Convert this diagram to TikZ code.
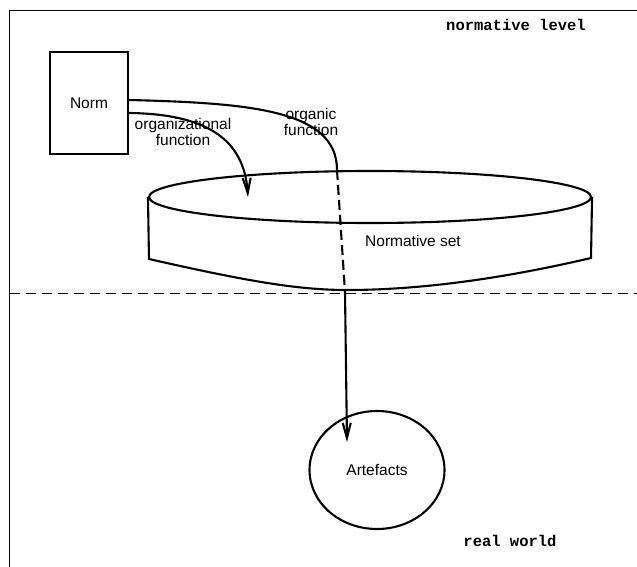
\documentclass[tikz,border=0pt]{standalone}
\usepackage{fontspec}
\setmainfont{Liberation Sans}
\setmonofont{Liberation Mono}
\usetikzlibrary{arrows.meta,shapes.geometric}

\begin{document}
\begin{tikzpicture}[x=1pt, y=-1pt,
		every node/.style={font=\fontsize{15.5}{16}\selectfont},
		heavy/.style={line width=2.1pt},
		barb/.style={-{Straight Barb[length=15pt,width=8pt]}},
		level/.style={font=\fontsize{15.5}{16}\selectfont\ttfamily\bfseries}]

	\useasboundingbox (0,0) rectangle (637,567);

	% frame and the line between the two levels
	\draw[line width=1pt] (9.5,567) -- (9.5,11) -- (637,11);
	\draw[line width=1pt, dash pattern=on 10pt off 6pt] (9.5,293) -- (637,293);

	\node[level] (upper) at (516,25) {normative level};
	\node[level] (lower) at (510,541) {real world};

	\node[shape=rectangle, draw=black, heavy, minimum width=78pt, minimum height=102pt] (norm) at (89,103) {Norm};

	% the set is a flat drum
	\node[shape=ellipse, draw=black, heavy, inner sep=0pt, minimum width=442pt, minimum height=52pt] (settop) at (370,197) {};
	\draw[heavy] (settop.west) -- (149,259) .. controls (250,282) and (300,290) .. (347,290)
		.. controls (400,290) and (480,284) .. (591,258) -- (settop.east);
	\node (normset) at (413,241) {Normative set};

	\node[shape=ellipse, draw=black, heavy, minimum width=135pt, minimum height=118pt] (art) at (377,470) {Artefacts};

	\coordinate (setin) at (248,197);
	\coordinate (orgbend) at (337,170);
	\coordinate (setfloor) at (345,292);
	\coordinate (artin) at (347,442);

	\draw[heavy, barb] ([yshift=-10pt]norm.east) .. controls (205,114) and (244,138) .. (setin);
	\draw[heavy] ([yshift=3pt]norm.east) .. controls (250,103) and (337,110) .. (orgbend);
	\draw[heavy, dash pattern=on 10pt off 5pt] (orgbend) -- (setfloor);
	\draw[heavy, barb] (setfloor) -- (artin);

	\node[align=center] (orglabel) at (183,132) {organizational\\function};
	\node[align=center] (organlabel) at (311,122) {organic\\function};
\end{tikzpicture}
\end{document}
